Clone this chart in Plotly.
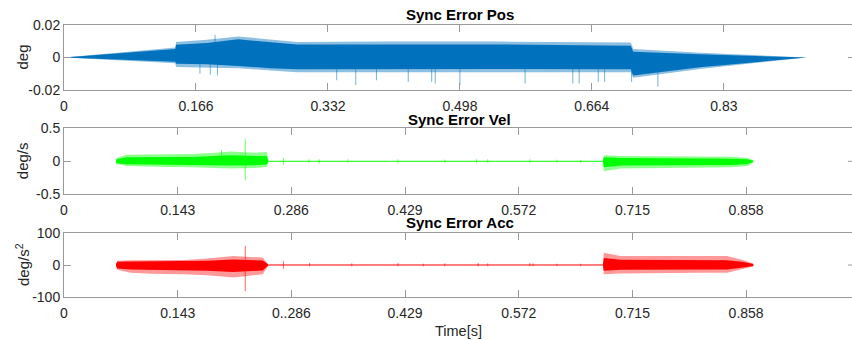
import plotly.graph_objects as go

# ---------------- data ----------------
# Sync Error Pos  (deg)
pos_t       = [0.000, 0.140, 0.141, 0.180, 0.219, 0.260, 0.293, 0.400, 0.550, 0.713, 0.716, 0.800, 0.934]
pos_hi      = [0.000, 0.0062, 0.0095, 0.0110, 0.0130, 0.0110, 0.0095, 0.0098, 0.0098, 0.0092, 0.0052, 0.0030, 0.000]
pos_lo      = [0.000, -0.0035, -0.0058, -0.0062, -0.0066, -0.0080, -0.0090, -0.0090, -0.0090, -0.0090, -0.0125, -0.0070, 0.000]
pos_core_hi = [0.000, 0.0052, 0.0078, 0.0090, 0.0112, 0.0092, 0.0080, 0.0080, 0.0080, 0.0072, 0.0036, 0.0020, 0.000]
pos_core_lo = [0.000, -0.0026, -0.0038, -0.0042, -0.0052, -0.0066, -0.0072, -0.0070, -0.0070, -0.0072, -0.0110, -0.0060, 0.000]
pos_spk_t   = [0.171, 0.184, 0.190, 0.193, 0.343, 0.367, 0.393, 0.433, 0.4625, 0.467, 0.498, 0.580, 0.640, 0.648, 0.672, 0.680, 0.714, 0.747]
pos_spk_y   = [-0.0099, -0.0105, 0.0140, -0.0110, -0.0140, -0.0170, -0.0140, -0.0150, -0.0150, -0.0160, -0.0170, -0.0160, -0.0160, -0.0160, -0.0150, -0.0150, -0.0150, -0.0180]

# Sync Error Vel  (deg/s)
vel1_t       = [0.0654, 0.0660, 0.079, 0.100, 0.130, 0.160, 0.190, 0.210, 0.240, 0.255, 0.257]
vel1_hi      = [0.01, 0.05, 0.10, 0.10, 0.10, 0.11, 0.13, 0.15, 0.13, 0.14, 0.02]
vel1_lo      = [-0.01, -0.04, -0.07, -0.08, -0.085, -0.09, -0.10, -0.11, -0.10, -0.085, -0.02]
vel1_core_hi = [0.01, 0.03, 0.06, 0.06, 0.06, 0.065, 0.08, 0.09, 0.08, 0.08, 0.01]
vel1_core_lo = [-0.01, -0.03, -0.045, -0.05, -0.05, -0.055, -0.06, -0.065, -0.06, -0.05, -0.01]
vel_quiet_t  = [0.257, 0.678]
vel_quiet_y  = [0.0, 0.0]
vel2_t       = [0.678, 0.679, 0.700, 0.750, 0.800, 0.840, 0.860, 0.867]
vel2_hi      = [0.02, 0.09, 0.08, 0.08, 0.075, 0.07, 0.05, 0.02]
vel2_lo      = [-0.02, -0.15, -0.11, -0.10, -0.10, -0.09, -0.07, -0.02]
vel2_core_hi = [0.01, 0.06, 0.05, 0.05, 0.045, 0.04, 0.03, 0.01]
vel2_core_lo = [-0.01, -0.09, -0.065, -0.06, -0.06, -0.055, -0.04, -0.01]
vel_spk_t    = [0.198, 0.228, 0.276, 0.308, 0.321, 0.357, 0.420, 0.479, 0.519, 0.533, 0.586, 0.620, 0.650]
vel_spk_hi   = [0.17, 0.34, 0.05, 0.03, 0.03, 0.03, 0.03, 0.025, 0.03, 0.03, 0.03, 0.025, 0.02]
vel_spk_lo   = [-0.05, -0.29, -0.05, -0.02, -0.03, -0.02, -0.03, -0.02, -0.025, -0.02, -0.02, -0.02, -0.02]

# Sync Error Acc  (deg/s^2)
acc1_t       = [0.0654, 0.0670, 0.0838, 0.110, 0.150, 0.180, 0.213, 0.235, 0.250, 0.2566]
acc1_hi      = [3, 13, 14.5, 15, 15.5, 20, 28, 25, 23, 3]
acc1_lo      = [-3, -15, -24, -27, -29, -32, -39, -33, -29, -3]
acc1_core_hi = [2, 10, 11, 11, 11, 13, 17, 15, 14, 2]
acc1_core_lo = [-2, -11, -14, -15, -16, -18, -22, -19, -17, -2]
acc_quiet_t  = [0.2566, 0.678]
acc_quiet_y  = [0.0, 0.0]
acc2_t       = [0.678, 0.679, 0.700, 0.750, 0.800, 0.834, 0.855, 0.867]
acc2_hi      = [5, 38, 28, 28, 28, 28, 15, 5]
acc2_lo      = [-5, -29, -26, -24, -24, -24, -13, -5]
acc2_core_hi = [3, 22, 16, 15, 15, 15, 9, 3]
acc2_core_lo = [-3, -18, -15, -14, -14, -14, -8, -3]
acc_spk_t    = [0.228, 0.276, 0.309, 0.362, 0.420, 0.452, 0.479, 0.521, 0.533, 0.586, 0.590, 0.620, 0.650]
acc_spk_hi   = [59, 12, 6, 5, 6, 4, 5, 6, 5, 6, 5, 4, 4]
acc_spk_lo   = [-81, -12, -4, -4, -4, -4, -4, -4, -4, -4, -4, -3, -3]

# ticks
pos_xticks = [0, 0.166, 0.332, 0.498, 0.664, 0.83]
pos_xtext  = ["0", "0.166", "0.332", "0.498", "0.664", "0.83"]
vel_xticks = [0, 0.143, 0.286, 0.429, 0.572, 0.715, 0.858]
vel_xtext  = ["0", "0.143", "0.286", "0.429", "0.572", "0.715", "0.858"]
acc_xticks = [0, 0.143, 0.286, 0.429, 0.572, 0.715, 0.858]
acc_xtext  = ["0", "0.143", "0..286", "0.429", "0.572", "0.715", "0.858"]
pos_yticks = [-0.02, 0, 0.02]
pos_ytext  = ["-0.02", "0", "0.02"]
vel_yticks = [-0.5, 0, 0.5]
vel_ytext  = ["-0.5", "0", "0.5"]
acc_yticks = [-100, 0, 100]
acc_ytext  = ["-100", "0", "100"]

# ---------------- styling / layout ----------------
W, H = 852, 340
L = 64
X_MAX = (W - L) / 795.0   # reference axis 0..1 spans 795 px, right edge is cropped

def py(p):  # pixel row -> paper y
    return 1 - p / H

def pxp(p):  # pixel column -> paper x
    return (p - L) / (W - L)

FONT = "Liberation Sans, Arial, Helvetica, sans-serif"
AXCOL = "#9a9a9a"
TXT = "#262626"
TICK_SIZE = 14

fig = go.Figure()


def band(t, lo, hi, color, xa, ya):
    fig.add_trace(go.Scatter(x=t, y=lo, mode="lines", line=dict(width=0, color=color),
                             hoverinfo="skip", showlegend=False, xaxis=xa, yaxis=ya))
    fig.add_trace(go.Scatter(x=t, y=hi, mode="lines", line=dict(width=0, color=color),
                             fill="tonexty", fillcolor=color, hoverinfo="skip",
                             showlegend=False, xaxis=xa, yaxis=ya))


def spikes(t, lo, hi, color, xa, ya, width=1):
    xs, ys = [], []
    for a, b, c in zip(t, lo, hi):
        xs += [a, a, None]
        ys += [b, c, None]
    fig.add_trace(go.Scatter(x=xs, y=ys, mode="lines", line=dict(width=width, color=color),
                             hoverinfo="skip", showlegend=False, xaxis=xa, yaxis=ya))


# Pos
BL, BL_L = "#0072BD", "rgba(0,114,189,0.45)"
band(pos_t, pos_lo, pos_hi, BL_L, "x", "y")
band(pos_t, pos_core_lo, pos_core_hi, BL, "x", "y")
spikes(pos_spk_t, [0] * len(pos_spk_t), pos_spk_y, "rgba(0,114,189,0.55)", "x", "y")

# Vel
GR, GR_L = "#00FF00", "rgba(0,255,0,0.45)"
fig.add_trace(go.Scatter(x=vel_quiet_t, y=vel_quiet_y, mode="lines", line=dict(width=1, color=GR),
                         hoverinfo="skip", showlegend=False, xaxis="x2", yaxis="y2"))
band(vel1_t, vel1_lo, vel1_hi, GR_L, "x2", "y2")
band(vel1_t, vel1_core_lo, vel1_core_hi, GR, "x2", "y2")
band(vel2_t, vel2_lo, vel2_hi, GR_L, "x2", "y2")
band(vel2_t, vel2_core_lo, vel2_core_hi, GR, "x2", "y2")
spikes(vel_spk_t, vel_spk_lo, vel_spk_hi, "rgba(0,255,0,0.6)", "x2", "y2")

# Acc
RD, RD_L = "#FF0000", "rgba(255,0,0,0.4)"
fig.add_trace(go.Scatter(x=acc_quiet_t, y=acc_quiet_y, mode="lines", line=dict(width=1, color=RD),
                         hoverinfo="skip", showlegend=False, xaxis="x3", yaxis="y3"))
band(acc1_t, acc1_lo, acc1_hi, RD_L, "x3", "y3")
band(acc1_t, acc1_core_lo, acc1_core_hi, RD, "x3", "y3")
band(acc2_t, acc2_lo, acc2_hi, RD_L, "x3", "y3")
band(acc2_t, acc2_core_lo, acc2_core_hi, RD, "x3", "y3")
spikes(acc_spk_t, acc_spk_lo, acc_spk_hi, "rgba(255,0,0,0.6)", "x3", "y3")


def xax(dom_anchor, ticks, text):
    return dict(range=[0, X_MAX], domain=[0, 1], anchor=dom_anchor, tickmode="array",
                tickvals=ticks, ticktext=text, ticks="inside", ticklen=7, tickcolor=AXCOL,
                showline=True, linecolor=AXCOL, linewidth=1, mirror="ticks",
                showgrid=False, zeroline=False, tickfont=dict(family=FONT, size=TICK_SIZE, color=TXT),
                ticklabelstandoff=3, automargin=False, fixedrange=True)


def yax(dom, anchor, rng, ticks, text):
    return dict(range=rng, domain=dom, anchor=anchor, tickmode="array", tickvals=ticks,
                ticktext=text, ticks="inside", ticklen=7, tickcolor=AXCOL, showline=True,
                linecolor=AXCOL, linewidth=1, mirror=False, showgrid=False, zeroline=False,
                tickfont=dict(family=FONT, size=TICK_SIZE, color=TXT), automargin=False,
                fixedrange=True)


dom_top = [py(90), py(25)]
dom_mid = [py(194.3), py(128.3)]
dom_bot = [py(297.3), py(232.7)]

fig.update_layout(
    width=W, height=H, margin=dict(l=L, r=0, t=0, b=0),
    paper_bgcolor="white", plot_bgcolor="white",
    font=dict(family=FONT, color=TXT),
    xaxis=xax("y", pos_xticks, pos_xtext),
    yaxis=yax(dom_top, "x", [-0.02, 0.02], pos_yticks, pos_ytext),
    xaxis2=xax("y2", vel_xticks, vel_xtext),
    yaxis2=yax(dom_mid, "x2", [-0.5, 0.5], vel_yticks, vel_ytext),
    xaxis3=xax("y3", acc_xticks, acc_xtext),
    yaxis3=yax(dom_bot, "x3", [-100, 100], acc_yticks, acc_ytext),
)

# right-side inward tick stubs at y = 0 (right frame edge is cropped in the reference)
for ya in ["y", "y2", "y3"]:
    fig.add_shape(type="line", xref="paper", yref=ya, x0=pxp(848), x1=1, y0=0, y1=0,
                  line=dict(color=AXCOL, width=1))

titles = [("Sync Error Pos", 15), ("Sync Error Vel", 119.5), ("Sync Error Acc", 222.5)]
for txt, yp in titles:
    fig.add_annotation(text="<b>%s</b>" % txt, xref="paper", yref="paper", x=pxp(460), y=py(yp),
                       showarrow=False, xanchor="center", yanchor="middle",
                       font=dict(family=FONT, size=15, color="#000000"))

ylabels = [("deg", 57.5), ("deg/s", 161.2), ("deg/s<sup>2</sup>", 265)]
for txt, yp in ylabels:
    fig.add_annotation(text=txt, xref="paper", yref="paper", x=pxp(22), y=py(yp), textangle=-90,
                       showarrow=False, xanchor="center", yanchor="middle",
                       font=dict(family=FONT, size=15, color=TXT))

fig.add_annotation(text="Time[s]", xref="paper", yref="paper", x=pxp(458), y=py(331),
                   showarrow=False, xanchor="center", yanchor="middle",
                   font=dict(family=FONT, size=14.5, color=TXT))

fig.write_html("out.html", config={"displayModeBar": False},
               post_script="document.body.style.margin='0px';document.body.style.overflow='hidden';")
